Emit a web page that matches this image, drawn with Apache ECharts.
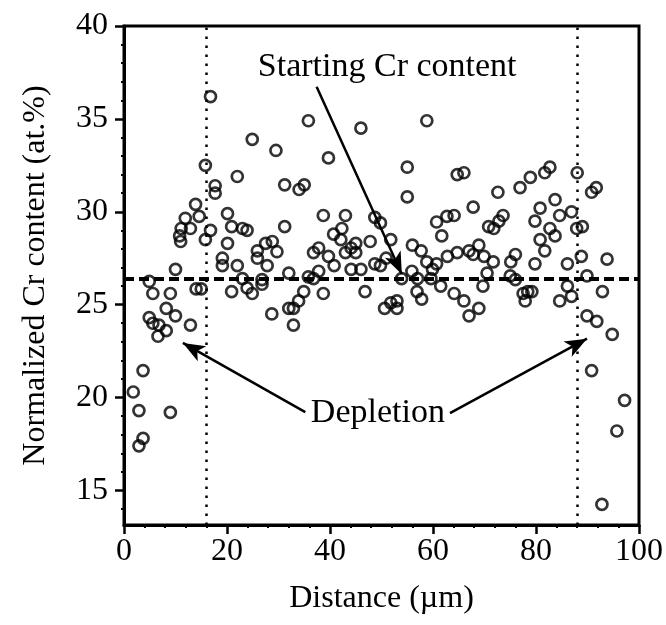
<!DOCTYPE html>
<html>
<head>
<meta charset="utf-8">
<script src="https://cdn.jsdelivr.net/npm/echarts@6/dist/echarts.min.js"></script>
<style>
html,body{margin:0;padding:0;background:#fff;}
#chart{width:666px;height:625px;}
</style>
</head>
<body>
<div id="chart"></div>
<script>
// Measured points: distance (µm) and normalized Cr content (at.%)
const distance = [16.8,24.9,29.5,15.8,22.0,17.7,17.7,13.9,20.1,14.6,11.9,11.1,12.9,10.8,11.0,16.8,15.8,20.9,23.0,23.9,20.1,25.9,27.5,28.8,29.7,19.1,19.1,22.0,25.9,27.8,10.0,4.9,23.0,26.8,26.8,23.9,24.9,20.9,14.0,15.0,5.6,9.0,8.2,10.0,4.9,5.6,6.8,8.2,6.6,12.9,28.7,3.7,1.8,2.9,9.0,3.7,2.9,
35.8,46.0,58.8,39.7,55.0,64.7,31.2,35.0,34.0,55.0,38.7,43.0,48.7,49.8,31.2,42.3,40.7,42.1,60.7,62.7,64.1,61.7,36.8,37.8,44.1,45.0,43.0,45.0,47.8,51.8,56.0,57.7,39.7,62.8,64.7,
40.8,44.1,46.0,48.7,49.8,50.9,55.9,58.8,60.7,32.0,35.8,36.8,37.8,34.9,38.7,46.8,33.9,32.0,32.9,32.9,50.6,51.8,53.0,53.0,53.9,57.0,59.6,61.5,56.9,57.8,64.1,59.9,
66.0,82.7,81.7,78.9,76.9,72.6,88.0,91.7,90.8,83.7,80.8,84.6,86.9,67.8,73.6,72.8,70.8,71.8,79.8,82.7,83.7,80.8,87.9,89.0,68.9,67.0,67.8,69.9,71.7,75.1,76.0,81.7,79.8,86.1,88.8,93.8,
70.5,69.7,75.0,76.0,66.0,67.0,68.9,77.5,78.4,79.2,77.9,84.6,86.1,86.9,89.9,92.9,89.9,91.8,94.8,90.8,97.2,95.7,92.8];
const crContent = [36.2,33.9,33.3,32.5,31.9,31.4,31.0,30.4,29.9,29.75,29.65,29.1,29.1,28.7,28.4,29.0,28.5,29.2,29.1,29.0,28.3,27.9,28.3,28.4,27.85,27.5,27.1,27.1,27.5,27.1,26.9,26.25,26.4,26.35,26.1,25.9,25.6,25.7,25.85,25.85,25.6,25.6,24.8,24.4,24.3,24.0,23.9,23.6,23.3,23.9,24.5,21.45,20.3,19.3,19.2,17.8,17.4,
34.9,34.5,34.9,32.9,32.4,32.0,31.45,31.45,31.2,30.8,29.8,29.8,29.7,29.4,29.2,29.1,28.8,28.5,29.45,29.75,29.8,28.7,27.8,28.05,28.05,28.3,27.8,27.8,28.4,28.5,28.2,27.9,27.6,27.6,27.8,
27.1,26.9,26.9,27.2,27.1,27.5,26.8,27.3,27.2,26.7,26.5,26.4,26.8,25.7,25.6,25.7,25.2,24.8,24.8,23.9,24.8,25.1,25.2,24.8,26.4,26.4,26.4,26.0,25.7,25.3,25.6,26.9,
32.1,32.4,32.1,31.85,31.3,31.05,32.1,31.3,31.05,30.65,30.2,29.8,30.0,30.25,29.8,29.5,29.2,29.1,29.5,29.1,28.7,28.5,29.1,29.2,28.2,27.9,27.7,27.6,27.3,27.3,27.7,27.9,27.2,27.2,27.6,27.45,
26.7,26.0,26.55,26.35,25.2,24.4,24.8,25.6,25.7,25.7,25.2,25.2,26.0,25.45,26.55,25.7,24.4,24.1,23.4,21.45,19.85,18.2,14.25];

const yMajorTicks = [15, 20, 25, 30, 35, 40];
const yMinorTicks = [14,16,17,18,19,21,22,23,24,26,27,28,29,31,32,33,34,36,37,38,39];
const startingCr = 26.4;          // dashed reference line
const depletionBounds = [16, 88]; // dotted vertical lines

// annotations: [text, x, y]
const labelTexts = [["Starting Cr content", 51.1, 37.8], ["Depletion", 49.3, 19.15]];
// arrows: [fromX, fromY, toX, toY]
const arrows = [[37.4, 36.73, 53.95, 26.64], [35.2, 19.22, 11.43, 22.94], [63.3, 19.16, 89.9, 23.17]];

const FONT = '"Liberation Serif", "Times New Roman", serif';
const points = distance.map((d, i) => [d, crContent[i]]);

const chart = echarts.init(document.getElementById('chart'), null, {renderer: 'canvas'});
chart.setOption({
  animation: false,
  backgroundColor: '#fff',
  grid: {left: 124, right: 23, top: 26, bottom: 100, show: true, borderColor: '#000', borderWidth: 3, backgroundColor: 'transparent'},
  xAxis: {
    type: 'value', min: 0, max: 100, interval: 20,
    name: 'Distance (µm)', nameLocation: 'middle', nameGap: 58,
    nameTextStyle: {fontFamily: FONT, fontSize: 32, color: '#000'},
    axisLine: {show: true, lineStyle: {color: '#000', width: 3}},
    axisTick: {show: true, length: 9, lineStyle: {color: '#000', width: 2.5}},
    minorTick: {show: true, splitNumber: 5, length: 3, lineStyle: {color: '#000', width: 2}},
    axisLabel: {fontFamily: FONT, fontSize: 32, color: '#000', margin: 11},
    splitLine: {show: false}, minorSplitLine: {show: false}
  },
  yAxis: [{
    type: 'value', min: 13.14, max: 40,
    name: 'Normalized Cr content (at.%)', nameLocation: 'middle', nameGap: 72,
    nameTextStyle: {fontFamily: FONT, fontSize: 32, color: '#000'},
    axisLine: {show: true, lineStyle: {color: '#000', width: 3}},
    axisTick: {show: true, length: 9, customValues: yMajorTicks, lineStyle: {color: '#000', width: 2.5}},
    axisLabel: {fontFamily: FONT, fontSize: 32, color: '#000', margin: 16, customValues: yMajorTicks},
    splitLine: {show: false}
  }, {
    type: 'value', min: 13.14, max: 40, position: 'left',
    axisLine: {show: false},
    axisTick: {show: true, length: 3, customValues: yMinorTicks, lineStyle: {color: '#000', width: 2}},
    axisLabel: {show: false},
    splitLine: {show: false}
  }],
  series: [{
    type: 'scatter',
    data: points,
    symbol: 'circle',
    symbolSize: 11,
    itemStyle: {color: 'rgba(255,255,255,0)', borderColor: '#000', borderWidth: 2.7},
    markLine: {
      silent: true, symbol: 'none', animation: false,
      label: {show: false},
      data: [
        {yAxis: startingCr, lineStyle: {color: '#000', width: 4, type: [10, 5]}},
        {xAxis: depletionBounds[0], lineStyle: {color: '#000', width: 2.5, type: [2.5, 6.5]}},
        {xAxis: depletionBounds[1], lineStyle: {color: '#000', width: 2.5, type: [2.5, 6.5]}}
      ].concat(arrows.map(a => [
        {coord: [a[0], a[1]], symbol: 'none', lineStyle: {color: '#000', width: 2.5, type: 'solid'}},
        {coord: [a[2], a[3]], symbol: 'arrow', symbolSize: [13, 22]}
      ]))
    },
    markPoint: {
      silent: true, symbol: 'circle', symbolSize: 0, animation: false,
      data: labelTexts.map(t => ({
        coord: [t[1], t[2]],
        label: {show: true, position: 'inside', formatter: t[0], fontFamily: FONT, fontSize: 34, color: '#000'}
      }))
    }
  }]
});
</script>
</body>
</html>
